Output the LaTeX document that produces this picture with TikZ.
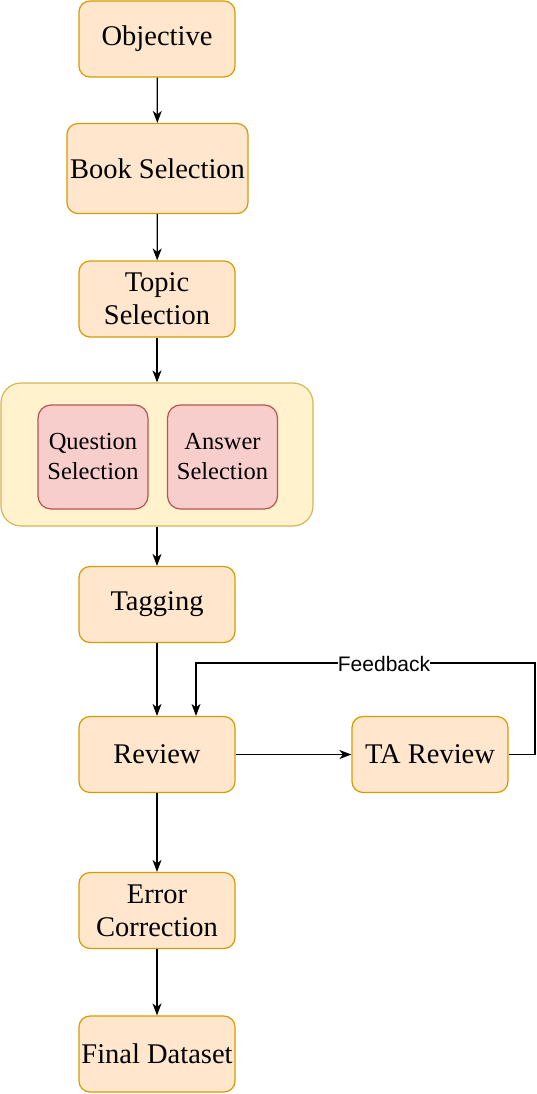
\documentclass[tikz,border=0pt]{standalone}
\usepackage{fontspec}
\setmainfont{Liberation Serif}
\newfontfamily\stepfont{Liberation Serif}
\newfontfamily\labelfont{Liberation Sans}
\usetikzlibrary{positioning,arrows.meta}
\definecolor{stepFill}{HTML}{FFE6CC}
\definecolor{stepLine}{HTML}{D79B00}
\definecolor{groupFill}{HTML}{FFF2CC}
\definecolor{groupLine}{HTML}{D6B656}
\definecolor{pickFill}{HTML}{F8CECC}
\definecolor{pickLine}{HTML}{B85450}

\begin{document}
\begin{tikzpicture}[x=1pt, y=-1pt,
  stepbox/.style={draw=stepLine, fill=stepFill, line width=1.2pt, rounded corners=11pt,
    minimum width=156pt, minimum height=76pt, align=center, inner sep=0pt,
    font=\stepfont\fontsize{28.5}{33}\selectfont},
  groupbox/.style={draw=groupLine, fill=groupFill, line width=1.2pt, rounded corners=20pt,
    minimum width=312pt, minimum height=143pt, inner sep=0pt},
  pickbox/.style={draw=pickLine, fill=pickFill, line width=1.2pt, rounded corners=13pt,
    minimum width=110pt, minimum height=104pt, align=center, inner sep=0pt,
    font=\stepfont\fontsize{24.5}{30}\selectfont},
  flow/.style={-{Stealth[length=12pt, width=9pt, inset=3.5pt]}, line width=1.3pt}]
  \useasboundingbox (0,0) rectangle (536,1094);

  % Main column
  \node[stepbox] (objective) at (157,39) {Objective};
  \node[stepbox, minimum width=181pt, minimum height=90pt] (book) at (157.5,168.5) {Book Selection};
  \node[stepbox] (topic) at (157,299) {Topic\\Selection};

  % Selection group
  \node[groupbox] (group) at (157,454.5) {};
  \node[pickbox] (question) at (93,457) {Question\\Selection};
  \node[pickbox] (answer) at (222.5,457) {Answer\\Selection};

  \node[stepbox] (tagging) at (157,604.5) {Tagging};
  \node[stepbox] (review) at (157,754.5) {Review};
  \node[stepbox] (tareview) at (430,754.5) {TA Review};
  \node[stepbox] (error) at (157,910.5) {Error\\Correction};
  \node[stepbox] (final) at (157,1054) {Final Dataset};

  % Connectors
  \draw[flow] (objective) -- (book);
  \draw[flow] (book) -- (topic);
  \draw[flow] (topic) -- (group);
  \draw[flow] (group) -- (tagging);
  \draw[flow] (tagging) -- (review);
  \draw[flow] (review) -- (tareview);
  \draw[flow] (review) -- (error);
  \draw[flow] (error) -- (final);

  % Feedback loop
  \coordinate (loopright) at (535,663);
  \coordinate (loopleft) at (196,663);
  \draw[flow] (tareview.east) -| (loopright) -- (loopleft) -- (loopleft |- review.north);
  \node[fill=white, inner sep=0pt, font=\labelfont\fontsize{21}{22}\selectfont] (feedback) at (384,664) {Feedback};
\end{tikzpicture}
\end{document}
